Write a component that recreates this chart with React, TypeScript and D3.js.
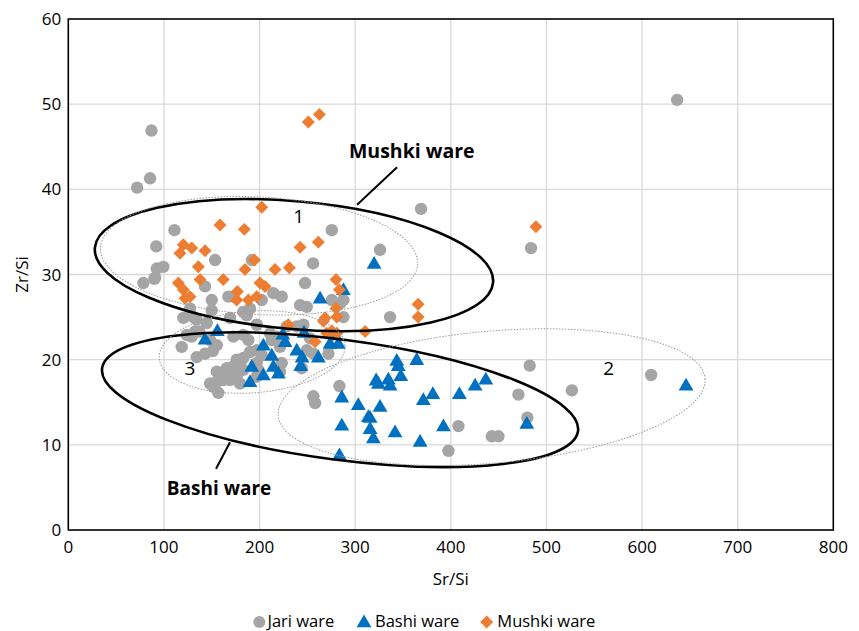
import React from "react";
import * as d3 from "d3";

const xTicks = [0, 100, 200, 300, 400, 500, 600, 700, 800];
const yTicks = [0, 10, 20, 30, 40, 50, 60];

const jariX = [87, 85.5, 72, 111, 92, 275.5, 326, 153.5, 192, 256, 92.5, 99.4, 90.7, 78.5, 90, 247.6, 143, 167.4, 172.6, 214.4, 223.2, 190, 202.3, 150, 150, 186.6, 120.3, 130.8, 169.1, 275.5, 287.7, 287.7, 127.3, 134.3, 144.8, 183, 197.1, 118.6, 123.8, 132.5, 148.2, 151, 134.3, 172.6, 183, 188.3, 155.2, 165.7, 176.1, 183, 197, 151.7, 156.9, 169.1, 179.6, 218, 221.4, 155.2, 143, 211, 212.8, 238.9, 245.8, 252.8, 190, 197, 202.3, 176.1, 183, 179.6, 172.6, 169.1, 176.1, 163.9, 158.7, 162.1, 155.2, 148.2, 223.2, 221.4, 197, 198.7, 244.1, 272, 283.5, 256.3, 258.1, 242.4, 249.4, 228.4, 249.4, 256.3, 284.3, 482.5, 526.6, 470.7, 480.1, 408, 442.9, 449.8, 397.5, 636.7, 609.5, 483.9, 368.9, 336.5, 137, 129];
const jariY = [46.9, 41.3, 40.2, 35.2, 33.3, 35.2, 32.9, 31.7, 31.7, 31.3, 30.7, 30.9, 29.6, 29.0, 29.5, 29.0, 28.6, 27.4, 27.4, 27.8, 27.4, 26.0, 27.0, 27.0, 25.8, 25.2, 24.9, 25.0, 24.9, 27.0, 27.0, 25.0, 26.0, 24.7, 24.3, 25.6, 24.1, 21.5, 22.9, 23.3, 22.3, 21.0, 20.3, 22.7, 22.9, 22.3, 18.6, 19.0, 18.6, 18.8, 18.0, 16.8, 16.1, 17.6, 17.2, 22.7, 21.5, 21.7, 20.7, 23.1, 22.3, 23.9, 24.1, 22.5, 20.9, 21.1, 20.5, 20.0, 20.2, 19.4, 19.2, 18.8, 18.0, 18.2, 18.4, 17.6, 17.4, 17.2, 19.6, 18.6, 19.6, 18.8, 19.0, 20.7, 16.9, 15.7, 14.9, 26.4, 26.2, 23.9, 21.1, 20.7, 26.6, 19.3, 16.4, 15.9, 13.2, 12.2, 11.0, 11.0, 9.3, 50.5, 18.2, 33.1, 37.7, 25.0, 23.3, 22.7];

const bashiX = [155.9, 143, 191.8, 190, 204, 212.8, 214.4, 219.7, 204, 224.3, 226.7, 238.9, 246.5, 244.5, 261.5, 273.7, 282.4, 279, 243.1, 263.3, 287.7, 286, 303.3, 286, 283.5, 313.8, 343.5, 345, 347.7, 364.4, 321.9, 324.3, 334.7, 336.5, 326, 315.6, 315.6, 319, 341.7, 367.9, 371.3, 381.2, 392.3, 409, 425.4, 436.6, 479.5, 646, 319.8];
const bashiY = [23.4, 22.4, 19.2, 17.4, 18.2, 20.5, 19.2, 18.4, 21.7, 23.0, 22.1, 21.1, 23.2, 20.3, 20.3, 21.9, 21.9, 22.9, 19.3, 27.2, 28.2, 15.6, 14.7, 12.3, 8.8, 13.3, 19.9, 19.3, 18.1, 20.0, 17.6, 17.2, 17.7, 17.0, 14.5, 13.2, 11.9, 10.8, 11.5, 10.4, 15.3, 16.0, 12.2, 16.0, 17.0, 17.7, 12.5, 17.0, 31.3];

const mushkiX = [251, 262.6, 202.3, 158.7, 184.1, 242.4, 261.5, 143, 120.3, 116.8, 129.1, 136, 137.8, 115.1, 120.3, 122.1, 127.3, 162.1, 176.8, 176.1, 188.3, 197.1, 200.5, 205.8, 184.8, 194.6, 216.2, 231.2, 280, 283.5, 280, 280.8, 266.8, 230.1, 268.5, 258, 275.5, 280.8, 310.4, 365.8, 365.8, 489, 270.3];
const mushkiY = [47.9, 48.8, 37.9, 35.8, 35.3, 33.2, 33.8, 32.8, 33.5, 32.5, 33.1, 30.9, 29.4, 29.0, 28.2, 27.2, 27.4, 29.4, 28.0, 27.0, 27.0, 27.4, 29.0, 28.6, 30.6, 31.7, 30.6, 30.8, 29.4, 28.2, 26.0, 25.0, 24.5, 24.1, 24.9, 22.1, 23.4, 23.1, 23.3, 26.5, 25.0, 35.6, 23.1];

const seriesNames = ["Jari ware", "Bashi ware", "Mushki ware"];

const W = 859;
const H = 631;
const COLORS = { jari: "#A5A5A5", bashi: "#0070C0", mushki: "#ED7D31" };
const FONT = "'Open Sans', 'Noto Sans', sans-serif";

// annotation ellipses: center (data), radii (data units), rotation (deg)
const ellipses = [
  { cx: 236, cy: 31.1, rx: 209, ry: 7.5, rot: 5, solid: true },
  { cx: 284.2, cy: 15.3, rx: 251, ry: 7.05, rot: 7.5, solid: true },
  { cx: 199.5, cy: 32.2, rx: 166, ry: 6.9, rot: 3, solid: false },
  { cx: 192.2, cy: 20.9, rx: 97.3, ry: 4.8, rot: -4, solid: false },
  { cx: 442.7, cy: 15.6, rx: 224, ry: 7.75, rot: -5, solid: false },
];

export default function App() {
  const x = d3.scaleLinear().domain([0, 800]).range([68.3, 833.3]);
  const y = d3.scaleLinear().domain([0, 60]).range([530, 19]);

  const tri = d3.symbol().type(d3.symbolTriangle).size(95)() as string;
  const dia = d3.symbol().type(d3.symbolSquare).size(84)() as string;

  return (
    <div style={{ position: "absolute", left: 0, top: 0 }}>
      <svg width={W} height={H} style={{ display: "block", background: "#fff" }}>
        {/* grid */}
        {xTicks.slice(1, -1).map((t) => (
          <line key={"gx" + t} x1={x(t)} x2={x(t)} y1={y(0)} y2={y(60)} stroke="#D9D9D9" strokeWidth={1.3} />
        ))}
        {yTicks.slice(1, -1).map((t) => (
          <line key={"gy" + t} x1={x(0)} x2={x(800)} y1={y(t)} y2={y(t)} stroke="#D9D9D9" strokeWidth={1.3} />
        ))}
        {/* box */}
        <rect x={x(0)} y={y(60)} width={x(800) - x(0)} height={y(0) - y(60)} fill="none" stroke="#000" strokeWidth={1.6} />

        {/* tick labels */}
        {xTicks.map((t) => (
          <text key={"xt" + t} x={x(t)} y={y(0) + 23} textAnchor="middle" fontFamily={FONT} fontSize={17} fill="#000">
            {t}
          </text>
        ))}
        {yTicks.map((t) => (
          <text key={"yt" + t} x={x(0) - 7} y={y(t) + 6} textAnchor="end" fontFamily={FONT} fontSize={17} fill="#000">
            {t}
          </text>
        ))}
        <text x={(x(0) + x(800)) / 2} y={585} textAnchor="middle" fontFamily={FONT} fontSize={17}>
          Sr/Si
        </text>
        <text transform={`translate(28, ${(y(0) + y(60)) / 2}) rotate(-90)`} textAnchor="middle" fontFamily={FONT} fontSize={17}>
          Zr/Si
        </text>

        {/* points */}
        {jariX.map((v, i) => (
          <circle key={"j" + i} cx={x(v)} cy={y(jariY[i])} r={6.2} fill={COLORS.jari} />
        ))}
        {bashiX.map((v, i) => (
          <path key={"b" + i} d={tri} transform={`translate(${x(v)},${y(bashiY[i]) + 1})`} fill={COLORS.bashi} />
        ))}
        {mushkiX.map((v, i) => (
          <path key={"m" + i} d={dia} transform={`translate(${x(v)},${y(mushkiY[i])}) rotate(45)`} fill={COLORS.mushki} />
        ))}

        {/* ellipses */}
        {ellipses.map((e, i) => {
          const cx = x(e.cx);
          const cy = y(e.cy);
          const rx = x(e.cx + e.rx) - cx;
          const ry = y(e.cy - e.ry) - cy;
          return (
            <ellipse
              key={"e" + i}
              cx={cx}
              cy={cy}
              rx={rx}
              ry={ry}
              transform={`rotate(${e.rot},${cx},${cy})`}
              fill="none"
              stroke={e.solid ? "#000" : "#9a9a9a"}
              strokeWidth={e.solid ? 2.6 : 1}
              strokeDasharray={e.solid ? undefined : "1.5,1.5"}
            />
          );
        })}

        {/* labels */}
        <text x={x(241)} y={y(36.9)} textAnchor="middle" dominantBaseline="central" fontFamily={FONT} fontSize={19}>1</text>
        <text x={x(565)} y={y(19.0)} textAnchor="middle" dominantBaseline="central" fontFamily={FONT} fontSize={19}>2</text>
        <text x={x(127.3)} y={y(19.0)} textAnchor="middle" dominantBaseline="central" fontFamily={FONT} fontSize={19}>3</text>

        <text x={x(359.2)} y={y(44.6)} textAnchor="middle" dominantBaseline="central" fontFamily={FONT} fontSize={19.5} fontWeight="bold">
          Mushki ware
        </text>
        <line x1={x(343.8)} y1={y(42.6)} x2={x(302)} y2={y(38.2)} stroke="#000" strokeWidth={2} />
        <text x={x(157.6)} y={y(4.9)} textAnchor="middle" dominantBaseline="central" fontFamily={FONT} fontSize={19} fontWeight="bold">
          Bashi ware
        </text>
        <line x1={x(169.1)} y1={y(10.3)} x2={x(154.5)} y2={y(7.2)} stroke="#000" strokeWidth={2} />

        {/* legend */}
        <g fontFamily={FONT} fontSize={16.5}>
          <circle cx={259.3} cy={622} r={6} fill={COLORS.jari} />
          <text x={267.5} y={627}>{seriesNames[0]}</text>
          <path d={tri} transform="translate(364,623)" fill={COLORS.bashi} />
          <text x={375} y={627}>{seriesNames[1]}</text>
          <path d={dia} transform="translate(486.7,622) rotate(45)" fill={COLORS.mushki} />
          <text x={497.3} y={627}>{seriesNames[2]}</text>
        </g>
      </svg>
    </div>
  );
}
